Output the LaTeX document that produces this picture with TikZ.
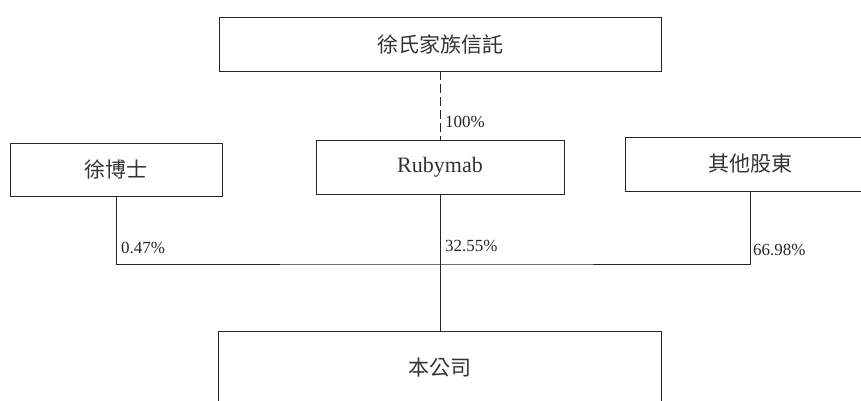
\documentclass[tikz,border=0pt]{standalone}
\usepackage{fontspec}
\setmainfont{Liberation Serif}
\newfontfamily\cjk{Noto Sans CJK TC}
\begin{document}
\begin{tikzpicture}[x=1pt,y=-1pt,
  box/.style={draw=black!85, line width=0.9pt, rectangle, inner sep=0pt, text=black!80},
  lbl/.style={font=\fontsize{21}{25}\selectfont},
  latin/.style={font=\fontsize{22}{26}\selectfont},
  pct/.style={anchor=west, inner sep=0pt, text=black!85, font=\fontsize{17}{20}\selectfont},
  link/.style={draw=black!85, line width=0.9pt}]
\useasboundingbox (0,0) rectangle (861,400);
\clip (0,0) rectangle (861,400);
\node[box, minimum width=442pt, minimum height=54pt, lbl] (trust) at (440,44) {\cjk 徐氏家族信託};
\node[box, minimum width=248pt, minimum height=54pt, latin] (ruby) at (440,167) {Rubymab};
\node[box, minimum width=212pt, minimum height=53pt, lbl] (xu) at (116,169.5) {\cjk 徐博士};
\node[box, minimum width=250pt, minimum height=54pt, lbl] (other) at (750,164) {\cjk 其他股東};
\node[box, minimum width=443pt, minimum height=74pt, lbl] (co) at (440,368) {\cjk 本公司};
\coordinate (j) at (440,264);
\draw[link, dash pattern=on 9pt off 4pt] (trust.south) -- (ruby.north);
\draw[link] (xu.south) |- (j) -| (other.south);
\draw[link] (ruby.south) -- (co.north);
\node[pct] (p100) at (445,122) {100\%};
\node[pct] (p1) at (121,248) {0.47\%};
\node[pct] (p2) at (445,246) {32.55\%};
\node[pct] (p3) at (753,250) {66.98\%};
\end{tikzpicture}
\end{document}
